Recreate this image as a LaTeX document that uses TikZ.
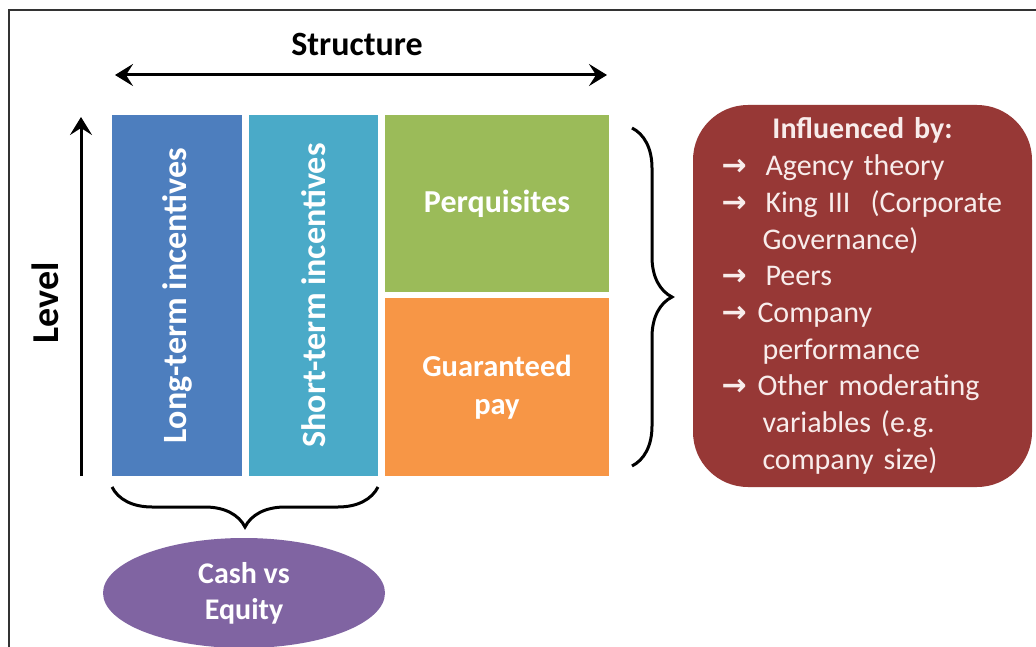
\documentclass[tikz,border=0pt]{standalone}
\usepackage{fontspec}
\setmainfont{Carlito}
\newfontfamily\arrowfont{DejaVu Sans}
\usetikzlibrary{arrows.meta,decorations.pathreplacing,shapes.geometric}

\definecolor{ltiblue}{HTML}{4D7EBE}
\definecolor{stiteal}{HTML}{4AAAC8}
\definecolor{perkgreen}{HTML}{9BBB59}
\definecolor{payorange}{HTML}{F79646}
\definecolor{cashpurple}{HTML}{8064A2}
\definecolor{inflred}{HTML}{973836}
\definecolor{infltext}{HTML}{F8ECEB}

\newcommand{\fsz}[2]{\fontsize{#1}{#2}\selectfont}
\newcommand{\infarrow}[1]{\makebox[#1][l]{\arrowfont\bfseries →}}

\tikzset{
    block/.style={fill=#1, text=white, inner sep=0pt, align=center},
    axis/.style={line width=3pt},
    curly/.style={decorate, decoration={brace, amplitude=40pt}, line width=3pt}
}

\begin{document}
\begin{tikzpicture}[x=1pt, y=-1pt, >={Stealth[length=18pt,width=22pt,inset=7pt]}]
    \useasboundingbox (0,0) rectangle (1036,647);
    \fill[white] (0,0) rectangle (1036,647);
    \draw[line width=2pt, black!80] (1036,10) -- (9,10) -- (9,648);

    % axes
    \node[font=\bfseries\fsz{34}{34}] (struct) at (357,44) {Structure};
    \draw[axis, <->] (115,75) -- (607,75);
    \draw[axis, ->] (81,476) -- (81,117);
    \node[rotate=90, font=\bfseries\fsz{38}{38}] (level) at (45,303) {Level};

    % pay components
    \node[block=ltiblue, rotate=90, minimum width=361, minimum height=130, font=\bfseries\fsz{34}{34}] (lti) at (177,295.5) {Long-term incentives};
    \node[block=stiteal, rotate=90, minimum width=361, minimum height=129, font=\bfseries\fsz{34}{34}] (sti) at (313.5,295.5) {Short-term incentives};
    \node[block=perkgreen, minimum width=224, minimum height=177, font=\bfseries\fsz{32}{32}] (perk) at (497,203.5) {Perquisites};
    \node[block=payorange, minimum width=224, minimum height=178, font=\bfseries\fsz{30.5}{38}] (pay) at (497,387) {Guaranteed\\pay};

    % braces
    \draw[curly] (632,128) -- (632,466);
    \draw[curly] (378,487) -- (112,487);

    \node[block=cashpurple, ellipse, minimum width=282, minimum height=110, font=\bfseries\fsz{30}{36}] (cash) at (244,593) {Cash vs\\Equity};

    \node[fill=inflred, rounded corners=55pt, minimum width=339, minimum height=382, text width=282pt, inner sep=0pt, align=left, text=infltext, font=\fsz{30}{36.7}] (infl) at (862.5,296) {%
        \makebox[282pt]{\bfseries\fsz{30}{36.7}Influenced by:}\\
        \infarrow{44pt}Agency theory\\
        \infarrow{44pt}King III\ \ (Corporate\\
        \hspace*{41pt}Governance)\\
        \infarrow{44pt}Peers\\
        \infarrow{36pt}Company\\
        \hspace*{41pt}performance\\
        \infarrow{36pt}Other moderating\\
        \hspace*{41pt}variables (e.g.\\
        \hspace*{41pt}company size)};
\end{tikzpicture}
\end{document}
